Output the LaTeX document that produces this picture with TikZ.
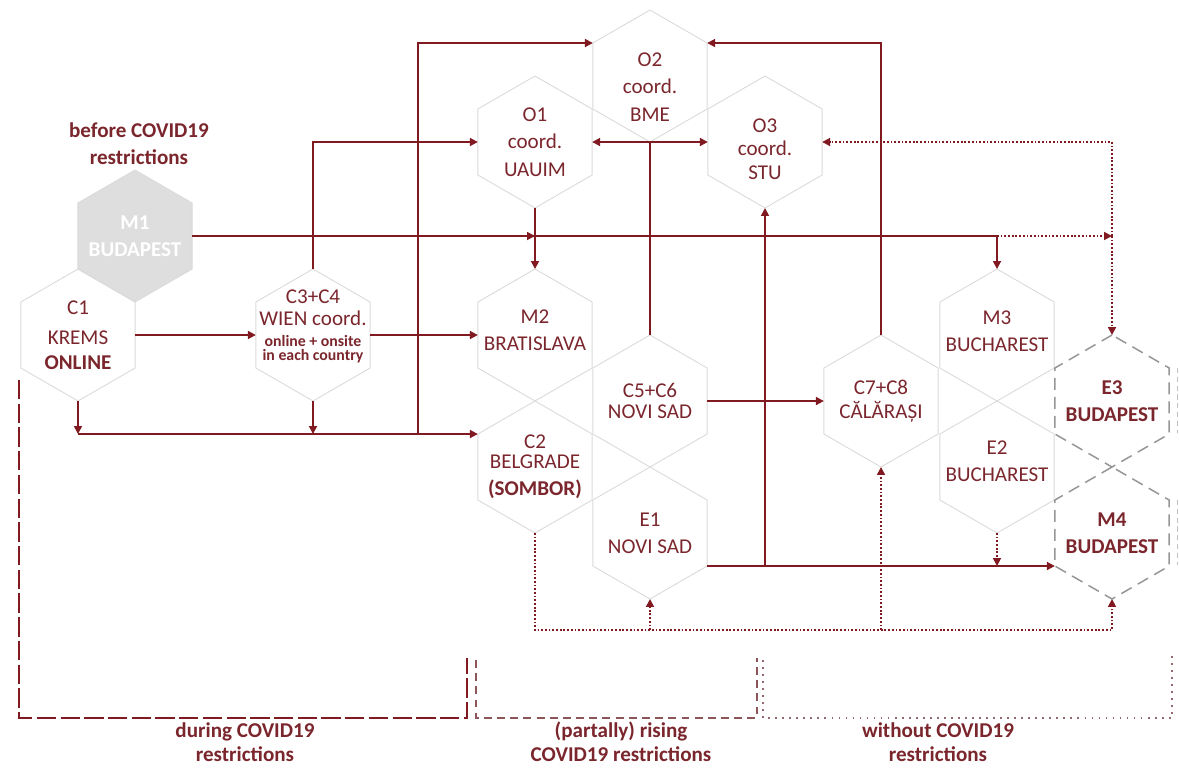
\documentclass[tikz,border=0pt]{standalone}
\usepackage{fontspec}
\setmainfont{Carlito}
\usetikzlibrary{arrows.meta,shapes.geometric}

\definecolor{linered}{RGB}{128,26,32}
\definecolor{textred}{RGB}{122,38,44}
\definecolor{hexgray}{RGB}{218,218,218}
\definecolor{fillgray}{RGB}{222,222,222}
\definecolor{dashgray}{RGB}{150,150,150}
\definecolor{midred}{RGB}{140,85,90}
\definecolor{lightred}{RGB}{150,105,110}

\newcommand{\smallbold}{\fontsize{9}{9}\selectfont\bfseries}

\begin{document}
\begin{tikzpicture}[
		x=0.02cm, y=-0.02cm,
		hexcell/.style={draw=hexgray, line width=0.5pt, regular polygon, regular polygon sides=6,
			regular polygon rotate=30, minimum size=2.64cm, inner sep=0pt, outer sep=0pt},
		newcell/.style={hexcell, draw=dashgray, line width=0.85pt, dash pattern=on 6.8pt off 4pt},
		celltext/.style={text=textred, align=center, font=\fontsize{12}{15.5}\selectfont},
		phase/.style={text=textred, align=center, font=\fontsize{12}{13.8}\selectfont\bfseries},
		flow/.style={draw=linered, line width=1pt, -{Triangle[length=4.5pt,width=4.5pt]}},
		dotflow/.style={flow, dash pattern=on 1pt off 1.1pt},
		spanA/.style={draw=linered, line width=1pt, dash pattern=on 11pt off 2.5pt},
		spanB/.style={draw=midred, line width=0.7pt, dash pattern=on 4.5pt off 3pt},
		spanC/.style={draw=lightred, line width=0.8pt, dash pattern=on 1pt off 3pt}
	]
	\useasboundingbox (0,0) rectangle (1179,768);

	% cells
	\node[hexcell, fill=fillgray, label={[celltext, text=white, font=\fontsize{12}{15.5}\selectfont\bfseries]center:{M1\\BUDAPEST}}] (M1) at (135,236) {};
	\node[hexcell, label={[celltext]center:{C1\\[1.5pt]KREMS\\[-1.3pt]\textbf{ONLINE}}}] (C1) at (78,335) {};
	\node[hexcell, label={[celltext, yshift=0.18cm]center:{C3+C4\\[-3pt]WIEN coord.\\[-3pt]{\smallbold online + onsite}\\[-8pt]{\smallbold in each country}}}] (C3C4) at (313,335) {};
	\node[hexcell, label={[celltext, yshift=-0.22cm]center:{O2\\coord.\\BME}}] (O2) at (650,76) {};
	\node[hexcell, label={[celltext]center:{O1\\coord.\\UAUIM}}] (O1) at (535,142) {};
	\node[hexcell, label={[celltext, yshift=-0.14cm]center:{O3\\[-2pt]coord.\\[-2pt]STU}}] (O3) at (765,142) {};
	\node[hexcell, label={[celltext, yshift=0.1cm]center:{M2\\BRATISLAVA}}] (M2) at (535,335) {};
	\node[hexcell, label={[celltext]center:{C5+C6\\[-3.5pt]NOVI SAD}}] (C5C6) at (650,401) {};
	\node[hexcell, label={[celltext]center:{C2\\[-4pt]BELGRADE\\\textbf{(SOMBOR)}}}] (C2) at (535,467) {};
	\node[hexcell, label={[celltext]center:{E1\\NOVI SAD}}] (E1) at (650,533) {};
	\node[hexcell, label={[celltext]center:{C7+C8\\[-2pt]CĂLĂRAȘI}}] (C7C8) at (881,401) {};
	\node[hexcell, label={[celltext, yshift=0.08cm]center:{M3\\BUCHAREST}}] (M3) at (997,335) {};
	\node[hexcell, label={[celltext, yshift=0.12cm]center:{E2\\BUCHAREST}}] (E2) at (997,467) {};
	\node[newcell, label={[celltext, font=\fontsize{12}{15.5}\selectfont\bfseries]center:{E3\\BUDAPEST}}] (E3) at (1112,401) {};
	\node[newcell, label={[celltext, font=\fontsize{12}{15.5}\selectfont\bfseries]center:{M4\\BUDAPEST}}] (M4) at (1112,533) {};
	\draw[draw=dashgray!60, line width=0.5pt, dash pattern=on 3pt off 2pt] (1177,368) -- (1177,433) (1177,500) -- (1177,565);

	\node[phase] (before) at (139,144) {before COVID19\\[1.5pt]restrictions};

	% solid flows
	\draw[flow] (C1.0) -- (C3C4.180);
	\draw[flow] (C3C4.0) -- (M2.180);
	\draw[flow] (C1.270) -- (C1.270 |- C2.150);
	\draw[flow] (C3C4.270) -- (C3C4.270 |- C2.150);
	\draw[flow] (C1.270 |- C2.150) -- (C2.150);
	\coordinate (riseO2) at (418,434);
	\draw[flow] (riseO2) |- (O2.150);
	\draw[flow] (C3C4.90) |- (O1.180);
	\draw[flow] (M1.0) -- (O1.270 |- M1.0);
	\draw[flow] (O1.270) -- (M2.90);
	\draw[flow] (M1.0) -| (M3.90);
	\draw[flow] (C5C6.90) |- (O1.0);
	\draw[flow] (C5C6.90) |- (O3.180);
	\draw[flow] (C5C6.0) -- (C7C8.180);
	\draw[flow] (C7C8.90) |- (O2.30);
	\draw[flow] (E1.330) -- (M4.210);
	\draw[flow] (O3.270 |- E1.330) -- (O3.270);

	% dotted flows
	\coordinate (jM3) at (M3.90 |- M1.0);
	\coordinate (jE3) at (E3.90 |- M1.0);
	\draw[dotflow] (jM3) -- (jE3);
	\draw[dotflow] (jE3) |- (O3.0);
	\draw[dotflow] (jE3) -- (E3.90);
	\coordinate (dotbase) at (535,630);
	\draw[dotflow] (C2.270) -- (dotbase) -| (M4.270);
	\draw[dotflow] (E1.270 |- dotbase) -- (E1.270);
	\draw[dotflow] (C7C8.270 |- dotbase) -- (C7C8.270);
	\draw[dotflow] (E2.270) -- (E2.270 |- E1.330);

	% phases
	\draw[spanA] (19,380) -- (19,718) -- (467,718) -- (467,658);
	\draw[spanB] (476,660) -- (476,718) -- (757,718) -- (757,658);
	\draw[spanC] (763,660) -- (763,718) -- (1172,718) -- (1172,655);
	\node[phase] (during) at (245,742) {during COVID19\\restrictions};
	\node[phase] (rising) at (621,742) {(partally) rising\\COVID19 restrictions};
	\node[phase] (without) at (938,742) {without COVID19\\restrictions};
\end{tikzpicture}
\end{document}
